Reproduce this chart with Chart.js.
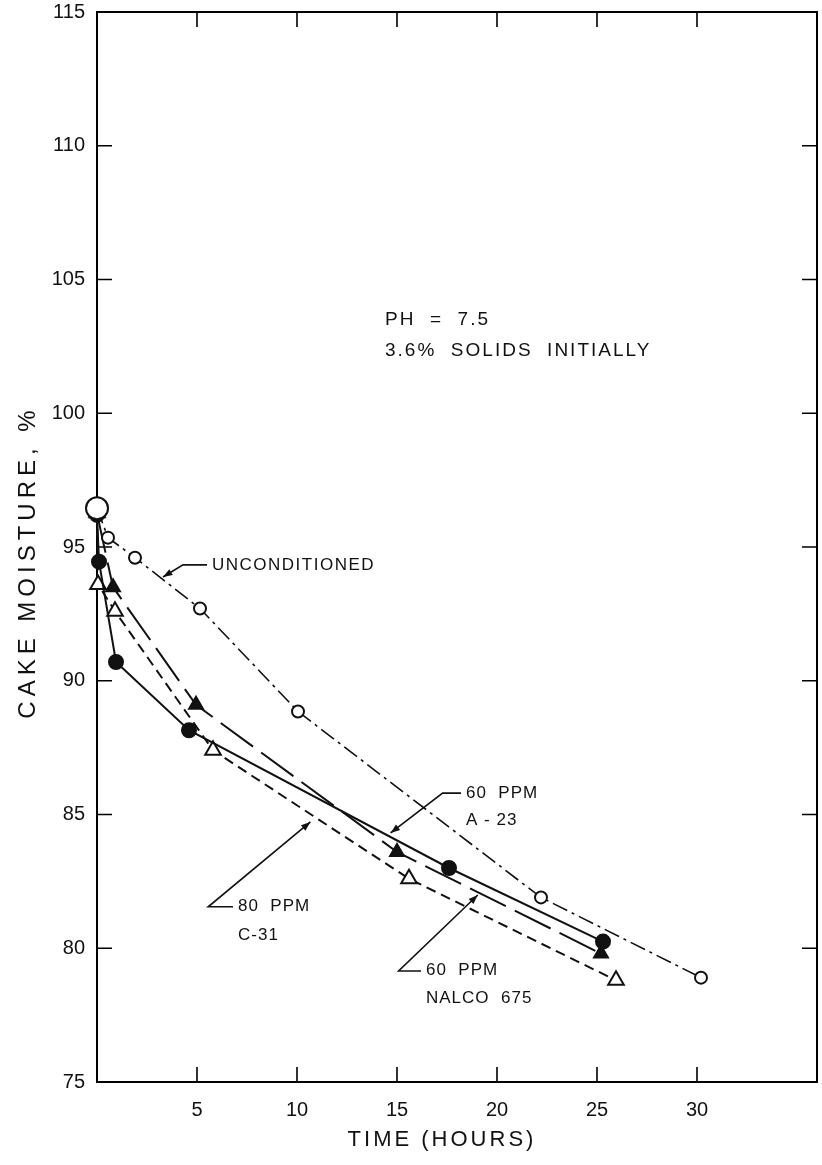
<!DOCTYPE html>
<html>
<head>
<meta charset="utf-8">
<script src="https://cdn.jsdelivr.net/npm/chart.js@4.4.0/dist/chart.umd.min.js"></script>
<style>
  body { margin: 0; background: #fff; }
  #wrap { width: 822px; height: 1165px; }
</style>
</head>
<body>
<div id="wrap"><canvas id="chart" width="822" height="1165"></canvas></div>
<script>
// values
var uncondTime = [0, 0.55, 1.9, 5.15, 10.05, 22.2, 30.2];
var uncondMoist = [96.45, 95.35, 94.6, 92.7, 88.85, 81.9, 78.9];

var a23Time = [0, 0.1, 0.95, 4.6, 17.6, 25.3];
var a23Moist = [96.2, 94.45, 90.7, 88.15, 83.0, 80.25];

var nalcoTime = [0, 0.8, 4.95, 15.0, 25.2];
var nalcoMoist = [96.25, 93.5, 89.1, 83.6, 79.8];

var c31Time = [0, 0.05, 0.9, 5.8, 15.6, 25.95];
var c31Moist = [96.3, 93.6, 92.6, 87.4, 82.6, 78.8];

var timeTicks = [5, 10, 15, 20, 25, 30];
var moistTicks = [75, 80, 85, 90, 95, 100, 105, 110, 115];

function pts(xs, ys) {
    return xs.map(function (x, i) { return { x: x, y: ys[i] }; });
}

const FONT = '"Liberation Sans", Arial, sans-serif';

// text notes and leader lines, placed in data units
const notes = [
    { text: 'PH  =  7.5', x: 14.4, y: 103.5, size: 19, sp: 2 },
    { text: '3.6%  SOLIDS  INITIALLY', x: 14.4, y: 102.35, size: 19, sp: 2 },
    { text: 'UNCONDITIONED', x: 5.75, y: 94.33, size: 17, sp: 1.5 },
    { text: '60  PPM', x: 18.45, y: 85.8, size: 17, sp: 1 },
    { text: 'A - 23', x: 18.45, y: 84.8, size: 17, sp: 1 },
    { text: '80  PPM', x: 7.05, y: 81.55, size: 17, sp: 1 },
    { text: 'C-31', x: 7.05, y: 80.5, size: 17, sp: 1 },
    { text: '60  PPM', x: 16.45, y: 79.18, size: 17, sp: 1 },
    { text: 'NALCO  675', x: 16.45, y: 78.12, size: 17, sp: 1 }
];
const leaders = [
    [[5.5, 94.33], [4.3, 94.33], [3.3, 93.88]],
    [[18.2, 85.8], [17.28, 85.8], [14.68, 84.31]],
    [[6.8, 81.55], [5.56, 81.55], [10.67, 84.72]],
    [[16.2, 79.15], [15.08, 79.15], [19.04, 81.99]]
];

const framePlugin = {
    id: 'frame',
    beforeDatasetsDraw(chart) {
        const { ctx, chartArea: a, scales: { x, y } } = chart;
        ctx.save();
        ctx.strokeStyle = '#000';
        ctx.lineWidth = 2;
        ctx.strokeRect(a.left, a.top, a.right - a.left, a.bottom - a.top);
        ctx.lineWidth = 1.6;
        ctx.beginPath();
        timeTicks.forEach(function (t) {
            const px = x.getPixelForValue(t);
            ctx.moveTo(px, a.bottom); ctx.lineTo(px, a.bottom - 15);
            ctx.moveTo(px, a.top); ctx.lineTo(px, a.top + 15);
        });
        moistTicks.slice(1, -1).forEach(function (m) {
            const py = y.getPixelForValue(m);
            ctx.moveTo(a.left, py); ctx.lineTo(a.left + 15, py);
            ctx.moveTo(a.right, py); ctx.lineTo(a.right - 15, py);
        });
        ctx.stroke();
        ctx.restore();
    },
    afterDraw(chart) {
        const { ctx, scales: { x, y } } = chart;
        ctx.save();
        ctx.fillStyle = '#111';
        ctx.textBaseline = 'middle';
        notes.forEach(function (n) {
            ctx.font = n.size + 'px ' + FONT;
            ctx.letterSpacing = n.sp + 'px';
            ctx.fillText(n.text, x.getPixelForValue(n.x), y.getPixelForValue(n.y));
        });

        // axis titles, lettered wide like the original
        ctx.textAlign = 'center';
        ctx.font = '22px ' + FONT;
        ctx.letterSpacing = '3px';
        ctx.fillText('TIME (HOURS)', 442, 1140);
        ctx.save();
        ctx.translate(28, 562);
        ctx.rotate(-Math.PI / 2);
        ctx.font = '24px ' + FONT;
        ctx.letterSpacing = '5px';
        ctx.fillText('CAKE MOISTURE, %', 0, 0);
        ctx.restore();
        ctx.letterSpacing = '0px';

        ctx.strokeStyle = '#111';
        ctx.lineWidth = 1.6;
        leaders.forEach(function (l) {
            const p = l.map(function (q) { return [x.getPixelForValue(q[0]), y.getPixelForValue(q[1])]; });
            ctx.beginPath();
            ctx.moveTo(p[0][0], p[0][1]);
            for (let i = 1; i < p.length; i++) ctx.lineTo(p[i][0], p[i][1]);
            ctx.stroke();
            // arrow head at the tip
            const a = p[p.length - 2], b = p[p.length - 1];
            const ang = Math.atan2(b[1] - a[1], b[0] - a[0]);
            ctx.beginPath();
            ctx.moveTo(b[0], b[1]);
            ctx.lineTo(b[0] - 10 * Math.cos(ang - 0.35), b[1] - 10 * Math.sin(ang - 0.35));
            ctx.lineTo(b[0] - 10 * Math.cos(ang + 0.35), b[1] - 10 * Math.sin(ang + 0.35));
            ctx.closePath();
            ctx.fill();
        });
        ctx.restore();
    }
};

const data = {
    datasets: [{
        label: 'UNCONDITIONED',
        data: pts(uncondTime, uncondMoist),
        showLine: true,
        borderColor: '#111',
        borderWidth: 1.6,
        borderDash: [16, 5, 3, 5],
        pointStyle: 'circle',
        pointRadius: [11, 6, 6, 6, 6, 6, 6],
        pointBackgroundColor: '#fff',
        pointBorderColor: '#111',
        pointBorderWidth: 2,
        clip: false
    }, {
        label: '60 PPM A-23',
        data: pts(a23Time, a23Moist),
        showLine: true,
        borderColor: '#111',
        borderWidth: 2,
        pointStyle: 'circle',
        pointRadius: 7,
        pointBackgroundColor: '#111',
        pointBorderColor: '#111',
        clip: false
    }, {
        label: '60 PPM NALCO 675',
        data: pts(nalcoTime, nalcoMoist),
        showLine: true,
        borderColor: '#111',
        borderWidth: 2,
        borderDash: [40, 10],
        pointStyle: 'triangle',
        pointRadius: 8,
        pointBackgroundColor: '#111',
        pointBorderColor: '#111',
        clip: false
    }, {
        label: '80 PPM C-31',
        data: pts(c31Time, c31Moist),
        showLine: true,
        borderColor: '#111',
        borderWidth: 2,
        borderDash: [10, 6],
        pointStyle: 'triangle',
        pointRadius: 9,
        pointBackgroundColor: '#fff',
        pointBorderColor: '#111',
        pointBorderWidth: 2,
        clip: false
    }]
};

const options = {
    responsive: false,
    animation: false,
    layout: { autoPadding: false, padding: { left: 0, right: 5, top: 12, bottom: 0 } },
    plugins: { legend: { display: false }, tooltip: { enabled: false } },
    scales: {
        x: {
            type: 'linear',
            min: 0,
            max: 36,
            grid: { display: false, drawTicks: false },
            border: { display: false },
            afterBuildTicks: function (s) { s.ticks = timeTicks.map(function (v) { return { value: v }; }); },
            afterFit: function (s) { s.height = 83; s.paddingLeft = 0; s.paddingRight = 0; },
            ticks: { color: '#111', padding: 16, font: { family: FONT, size: 20 } }
        },
        y: {
            type: 'linear',
            min: 75,
            max: 115,
            grid: { display: false, drawTicks: false },
            border: { display: false },
            afterBuildTicks: function (s) { s.ticks = moistTicks.map(function (v) { return { value: v }; }); },
            afterFit: function (s) { s.width = 97; s.paddingTop = 0; s.paddingBottom = 0; },
            ticks: { color: '#111', padding: 12, font: { family: FONT, size: 20 } }
        }
    }
};

const ctx = document.getElementById('chart').getContext('2d');
const moistureChart = new Chart(ctx, {
    type: 'scatter',
    data: data,
    options: options,
    plugins: [framePlugin]
});
</script>
</body>
</html>
